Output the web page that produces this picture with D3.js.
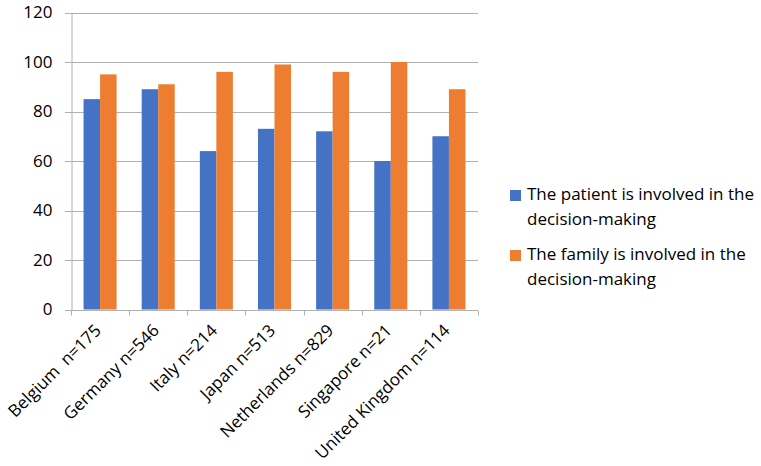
<!DOCTYPE html>
<html><head><meta charset="utf-8">
<script src="https://cdn.jsdelivr.net/npm/d3@7"></script>
<style>body{margin:0;background:#fff}svg{display:block}text{font-family:"Open Sans",sans-serif;fill:#000}</style>
</head><body>
<svg id="c" width="761" height="466"></svg>
<script>
const categories = ["Belgium  n=175","Germany n=546","Italy n=214","Japan n=513","Netherlands n=829","Singapore n=21","United Kingdom n=114"];
const patientValues = [85,89,64,73,72,60,70];
const familyValues = [95,91,96,99,96,100,89];
const seriesNames = ["The patient is involved in the decision-making","The family is involved in the decision-making"];
const yTicks = [0,20,40,60,80,100,120];
const colors = ["#4472C4","#ED7D31"];

const svg = d3.select("#c");
const L = 71, R = 478, T = 12.5, B = 309.5;
const x = d3.scaleBand().domain(categories).range([L,R]).paddingInner(0).paddingOuter(0);
const y = d3.scaleLinear().domain([0,120]).range([B,T]);
const inner = d3.scaleBand().domain([0,1]).range([0,x.bandwidth()]).paddingInner(0).paddingOuter(0.76);

// gridlines
svg.append("g").selectAll("line").data(yTicks.filter(d=>d>0)).join("line")
  .attr("x1",L-6).attr("x2",R).attr("y1",d=>Math.round(y(d))+0.5).attr("y2",d=>Math.round(y(d))+0.5)
  .attr("stroke","#b0b0b0").attr("stroke-width",1);

// bars
const data = categories.map((c,i)=>({c,vals:[patientValues[i],familyValues[i]]}));
const g = svg.append("g");
data.forEach(d=>{
  d.vals.forEach((v,k)=>{
    g.append("rect").attr("x",x(d.c)+inner(k)).attr("width",inner.bandwidth())
     .attr("y",y(v)).attr("height",y(0)-y(v)).attr("fill",colors[k]);
  });
});

// y axis
const yAxis = d3.axisLeft(y).tickValues(yTicks).tickSize(0).tickPadding(19);
const ya = svg.append("g").attr("transform",`translate(${L+0.5},0)`).call(yAxis);
ya.select(".domain").attr("stroke","#b0b0b0");
ya.selectAll("text").style("font-size","17px").style("font-family","'Open Sans',sans-serif").attr("fill","#000");

// x axis
const xAxis = d3.axisBottom(x).tickValues([]).tickSizeOuter(0);
const xa = svg.append("g").attr("transform",`translate(0,${Math.round(B)+0.5})`).call(xAxis);
xa.select(".domain").attr("stroke","#b0b0b0").attr("d",`M${L-6},0H${R}`);
const bounds = categories.map(c=>x(c)).concat([R]);
xa.selectAll("line.b").data(bounds).join("line").attr("class","b")
  .attr("x1",d=>Math.round(d)+0.5).attr("x2",d=>Math.round(d)+0.5).attr("y1",0).attr("y2",5).attr("stroke","#b0b0b0");

// x labels
svg.append("g").selectAll("text").data(categories).join("text")
  .attr("transform",d=>`translate(${x(d)+x.bandwidth()/2+2},${B+22}) rotate(-45)`)
  .attr("text-anchor","end").style("font-size","17px").style("white-space","pre")
  .attr("xml:space","preserve")
  .text(d=>d);

// legend
const lg = svg.append("g");
const legendLines = [["The patient is involved in the","decision-making"],["The family is involved in the","decision-making"]];
legendLines.forEach((lines,k)=>{
  const y0 = 200 + k*60;
  lg.append("rect").attr("x",510).attr("y",y0-10).attr("width",11).attr("height",11).attr("fill",colors[k]);
  lines.forEach((t,j)=>{
    lg.append("text").attr("x",527).attr("y",y0+j*25).style("font-size","17px").text(t);
  });
});
</script>
</body></html>
